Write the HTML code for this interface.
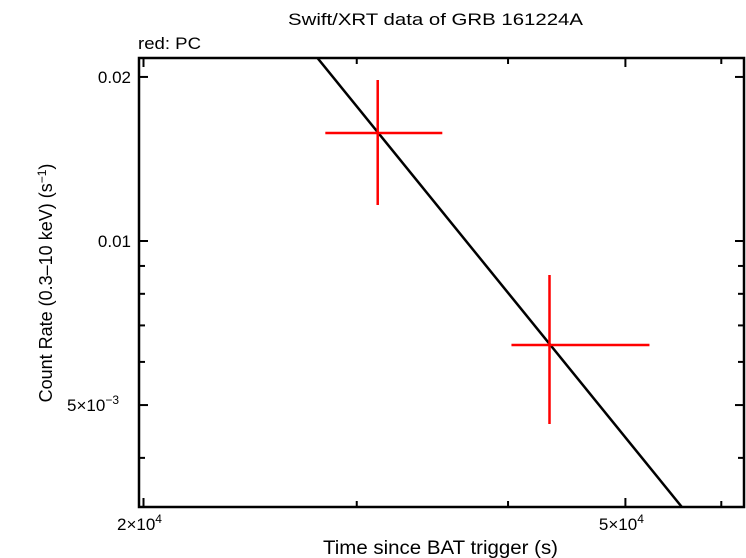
<!DOCTYPE html>
<html><head><meta charset="utf-8"><style>
html,body{margin:0;padding:0;background:#fff;}
svg{display:block;font-family:"Liberation Sans",sans-serif;}
</style></head><body>
<svg id="chart" width="746" height="558" viewBox="0 0 746 558" xmlns="http://www.w3.org/2000/svg">
<text x="288" y="25" font-size="17" textLength="295" lengthAdjust="spacingAndGlyphs">Swift/XRT data of GRB 161224A</text>
<text x="138" y="49" font-size="17" textLength="63" lengthAdjust="spacingAndGlyphs">red: PC</text>
<text x="323" y="554" font-size="19" textLength="235" lengthAdjust="spacingAndGlyphs">Time since BAT trigger (s)</text>
<text transform="translate(52,283) rotate(-90)" font-size="18" text-anchor="middle">Count Rate (0.3–10 keV) (s<tspan dy="-6" font-size="12">−1</tspan><tspan dy="6">)</tspan></text>
<g id="plot"></g>
</svg>
<script>
// data
const pointTimes = [31220, 43280];
const pointTimeLo = [28260, 40260];
const pointTimeHi = [35300, 52340];
const pointRates = [0.01578, 0.006445];
const pointRateLo = [0.01164, 0.004616];
const pointRateHi = [0.01974, 0.00866];
const modelTimes = [27780, 55730];
const modelRates = [0.0218, 0.00324];
const xMajorTicks = [20000, 50000];
const xMajorLabels = ["2×10", "5×10"];
const xMinorTicks = [30000, 40000, 60000];
const yMajorTicks = [0.02, 0.01, 0.005];
const yMajorLabels = ["0.02", "0.01", "5×10"];
const yMinorTicks = [0.009, 0.008, 0.007, 0.006, 0.004];

const L=139,R=744,T=58,B=507;
const xMin=20000*Math.pow(10,-4.5/1211), xMax=xMin*Math.pow(10,(R-L)/1211);
const yMax=0.01*Math.pow(10,(241-T)/545), yMin=0.01*Math.pow(10,(241-B)/545);
function X(v){return L+(Math.log10(v)-Math.log10(xMin))/(Math.log10(xMax)-Math.log10(xMin))*(R-L);}
function Y(v){return B-(Math.log10(v)-Math.log10(yMin))/(Math.log10(yMax)-Math.log10(yMin))*(B-T);}
const NS="http://www.w3.org/2000/svg";
const g=document.getElementById('plot');
function mk(tag,attrs,parent){const e=document.createElementNS(NS,tag);for(const k in attrs)e.setAttribute(k,attrs[k]);(parent||g).appendChild(e);return e;}

const defs=mk('defs',{});
const cp=mk('clipPath',{id:'clip'},defs);
mk('rect',{x:L,y:T,width:R-L,height:B-T},cp);

const ml=mk('line',{x1:X(modelTimes[0]),y1:Y(modelRates[0]),x2:X(modelTimes[1]),y2:Y(modelRates[1]),stroke:'#000','stroke-width':2.5,'clip-path':'url(#clip)'});



for(let i=0;i<pointTimes.length;i++){
  const pg=mk('g',{stroke:'#f00','stroke-width':2.5});
  
  
  mk('line',{x1:X(pointTimeLo[i]),x2:X(pointTimeHi[i]),y1:Y(pointRates[i]),y2:Y(pointRates[i])},pg);
  mk('line',{x1:X(pointTimes[i]),x2:X(pointTimes[i]),y1:Y(pointRateLo[i]),y2:Y(pointRateHi[i])},pg);
}

const fr=mk('rect',{x:L,y:T,width:R-L,height:B-T,fill:'none',stroke:'#000','stroke-width':2.5});



xMajorTicks.forEach((v,i)=>{
  const x=X(v);
  mk('line',{x1:x,x2:x,y1:B,y2:B-9,stroke:'#000','stroke-width':2});
  mk('line',{x1:x,x2:x,y1:T,y2:T+9,stroke:'#000','stroke-width':2});
  const t=mk('text',{x:x-4,y:530,'font-size':17,'text-anchor':'middle'});
  
  
  t.textContent=xMajorLabels[i];
  const s=mk('tspan',{dy:-7,'font-size':12},t);s.textContent='4';
});
xMinorTicks.forEach(v=>{
  const x=X(v);
  mk('line',{x1:x,x2:x,y1:B,y2:B-6,stroke:'#000','stroke-width':2});
  mk('line',{x1:x,x2:x,y1:T,y2:T+6,stroke:'#000','stroke-width':2});
});
yMajorTicks.forEach((v,i)=>{
  const y=Y(v);
  mk('line',{x1:L,x2:L+9,y1:y,y2:y,stroke:'#000','stroke-width':2});
  mk('line',{x1:R,x2:R-9,y1:y,y2:y,stroke:'#000','stroke-width':2});
  const t=mk('text',{x:i==2?119:131,y:y+6,'font-size':17,'text-anchor':'end'});
  
  
  t.textContent=yMajorLabels[i];
  if(i==2){const s=mk('tspan',{dy:-7,'font-size':12},t);s.textContent='−3';}
});
yMinorTicks.forEach(v=>{
  const y=Y(v);
  mk('line',{x1:L,x2:L+6,y1:y,y2:y,stroke:'#000','stroke-width':2});
  mk('line',{x1:R,x2:R-6,y1:y,y2:y,stroke:'#000','stroke-width':2});
});
</script>
</body></html>
